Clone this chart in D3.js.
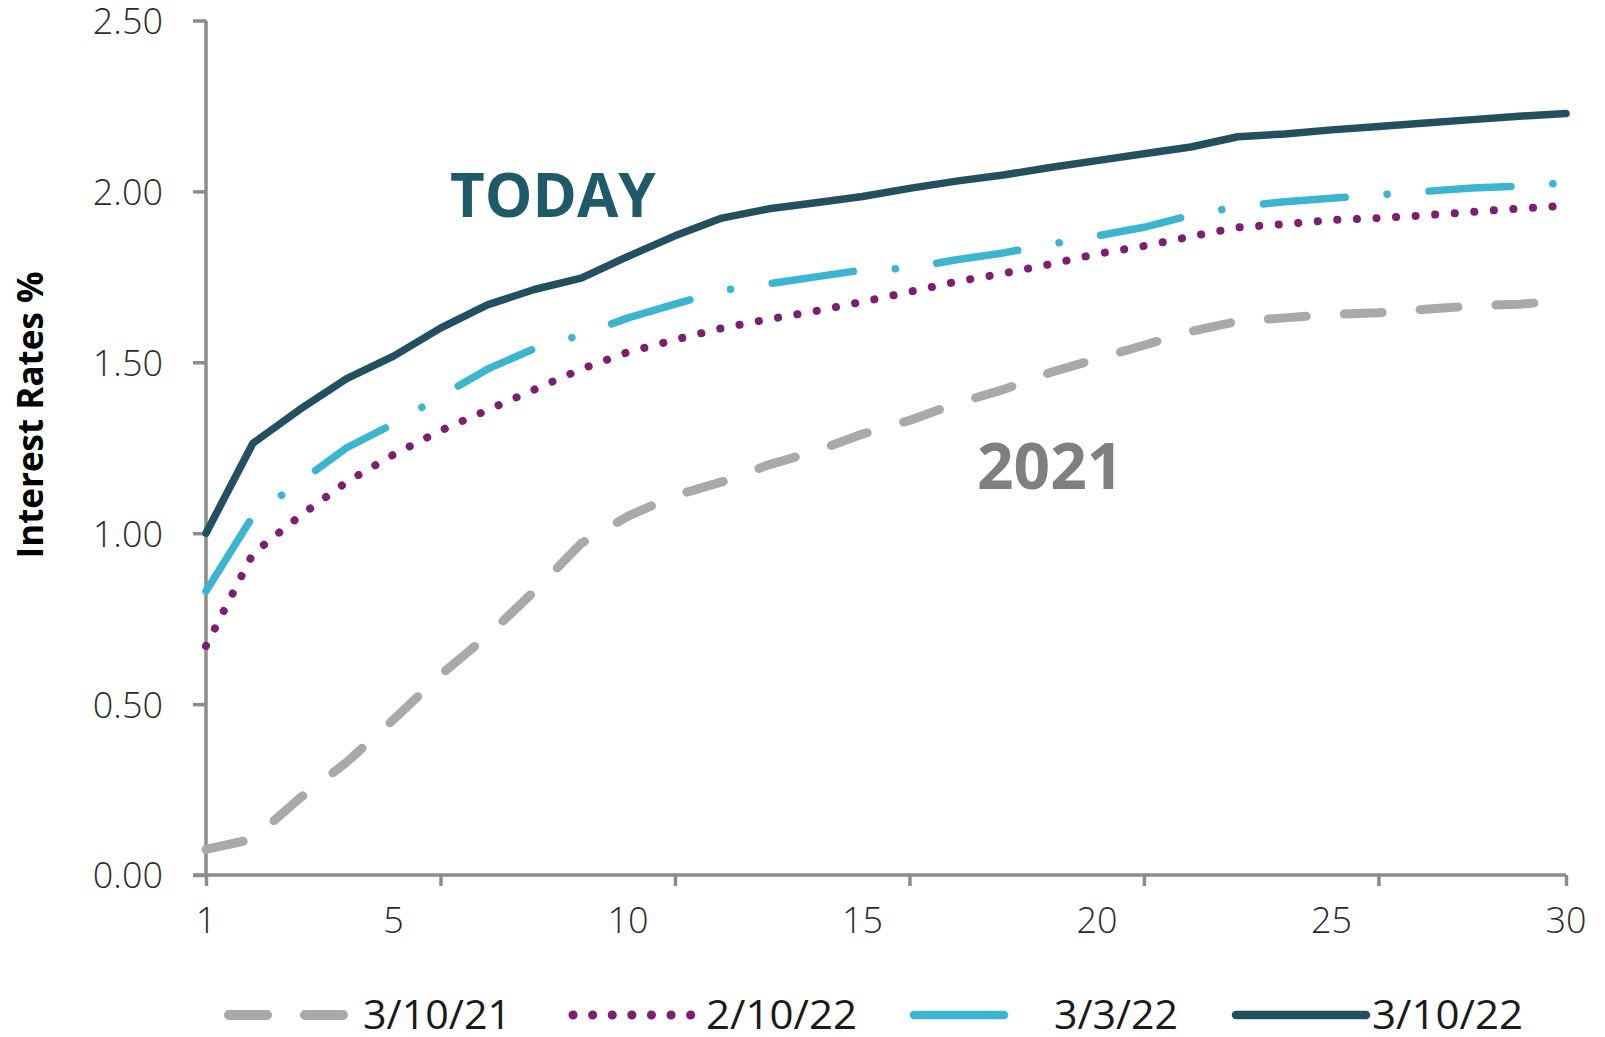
<!DOCTYPE html>
<html>
<head>
<meta charset="utf-8">
<script src="https://cdn.jsdelivr.net/npm/d3@7"></script>
<style>
  body { margin: 0; background: #fff; }
  svg { display: block; }
</style>
</head>
<body>
<div id="chart"></div>
<script>
// maturity (years) on the x axis
var years = d3.range(1, 31)
var xLabels = [1, 5, 10, 15, 20, 25, 30]
var xTicks = [1, 6, 11, 16, 21, 26, 30]
var yTicks = [0, 0.5, 1, 1.5, 2, 2.5]

// yield curves
var mar21 = [0.075, 0.105, 0.225, 0.33, 0.455, 0.585, 0.70, 0.83, 0.97, 1.05,
  1.11, 1.15, 1.20, 1.24, 1.29, 1.33, 1.38, 1.42, 1.47, 1.51,
  1.55, 1.59, 1.62, 1.63, 1.64, 1.645, 1.655, 1.665, 1.67, 1.68]
var feb22 = [0.67, 0.94, 1.05, 1.15, 1.23, 1.30, 1.36, 1.42, 1.48, 1.53,
  1.566, 1.60, 1.626, 1.65, 1.677, 1.706, 1.736, 1.76, 1.787, 1.817,
  1.84, 1.868, 1.895, 1.904, 1.916, 1.922, 1.93, 1.94, 1.95, 1.958]
var mar3_22 = [0.83, 1.05, 1.15, 1.25, 1.32, 1.40, 1.48, 1.54, 1.58, 1.63,
  1.67, 1.71, 1.73, 1.75, 1.77, 1.775, 1.80, 1.82, 1.845, 1.87,
  1.895, 1.93, 1.955, 1.97, 1.98, 1.99, 2.00, 2.01, 2.015, 2.025]
var mar10_22 = [1.00, 1.263, 1.362, 1.452, 1.518, 1.60, 1.668, 1.713, 1.746, 1.81,
  1.87, 1.922, 1.949, 1.967, 1.985, 2.009, 2.03, 2.048, 2.07, 2.09,
  2.11, 2.13, 2.16, 2.168, 2.18, 2.19, 2.20, 2.21, 2.22, 2.228]

var seriesNames = ["3/10/21", "2/10/22", "3/3/22", "3/10/22"]
var seriesData = [mar21, feb22, mar3_22, mar10_22]

var styles = [
  {color: "#a9a9a9", width: 9, dash: "38,38"},
  {color: "#7b1f6e", width: 8, dash: "0.1,19.5"},
  {color: "#3cb6d0", width: 7.5, dash: "82,42,0.1,42"},
  {color: "#23505f", width: 7.5, dash: null}
]

var W = 1605, H = 1037
var margin = {top: 20.5, right: 39, bottom: 162, left: 206}
var width = W - margin.left - margin.right,
    height = H - margin.top - margin.bottom

var svg = d3.select("#chart").append("svg")
  .attr("width", W)
  .attr("height", H)

var g = svg.append("g")
  .attr("transform", `translate(${margin.left},${margin.top})`)

var x = d3.scaleLinear().domain([1, 30]).range([0, width])
var y = d3.scaleLinear().domain([0, 2.5]).range([height, 0])

var axisColor = "#8c8c8c"
var tickFont = "'Open Sans', sans-serif"

// y axis
var yAxis = g.append("g")
  .call(d3.axisLeft(y).tickValues(yTicks).tickFormat(d3.format(".2f")).tickSize(13).tickPadding(30))
yAxis.select(".domain").remove()
yAxis.selectAll(".tick line").attr("stroke", axisColor).attr("stroke-width", 3.5)
yAxis.selectAll(".tick text")
  .attr("fill", "#2b2b2b")
  .attr("dy", "0.36em")
  .style("font-family", tickFont)
  .style("font-weight", 350)
  .style("font-size", "36px")

g.append("line")
  .attr("x1", 0).attr("x2", 0)
  .attr("y1", y(2.5)).attr("y2", height + 1)
  .attr("stroke", axisColor).attr("stroke-width", 3.5)

// x axis: ticks and labels sit at different values, like the source
var xAxis = g.append("g")
  .attr("transform", `translate(0,${height})`)
  .call(d3.axisBottom(x).tickValues(xTicks).tickFormat("").tickSize(11))
xAxis.select(".domain").remove()
xAxis.selectAll(".tick line").attr("stroke", axisColor).attr("stroke-width", 3.5)

g.append("line")
  .attr("x1", -13).attr("x2", width)
  .attr("y1", height).attr("y2", height)
  .attr("stroke", axisColor).attr("stroke-width", 3.5)

g.append("g").selectAll("text")
  .data(xLabels)
  .join("text")
  .attr("x", d => x(d))
  .attr("y", height + 58)
  .attr("text-anchor", "middle")
  .attr("fill", "#2b2b2b")
  .style("font-family", tickFont)
  .style("font-weight", 350)
  .style("font-size", "36px")
  .text(d => d)

// y title
svg.append("text")
  .attr("transform", "translate(43,415) rotate(-90)")
  .attr("text-anchor", "middle")
  .attr("fill", "#000")
  .style("font-family", "'Open Sans', sans-serif")
  .style("font-weight", "bold")
  .style("font-size", "35px")
  .text("Interest Rates %")

// lines
var lineFunc = d3.line()
  .x((d, i) => x(years[i]))
  .y(d => y(d))

seriesData.forEach(function(d, i) {
  g.append("path")
    .attr("d", lineFunc(d))
    .attr("fill", "none")
    .attr("stroke", styles[i].color)
    .attr("stroke-width", styles[i].width)
    .attr("stroke-linecap", "round")
    .attr("stroke-linejoin", "round")
    .attr("stroke-dasharray", styles[i].dash)
})

// annotations
svg.append("text")
  .attr("x", 450).attr("y", 217)
  .attr("fill", "#1e5a68")
  .style("font-family", "'Open Sans', sans-serif")
  .style("font-weight", "bold")
  .style("font-size", "60px")
  .text("TODAY")

svg.append("text")
  .attr("x", 977).attr("y", 489)
  .attr("fill", "#7f7f7f")
  .style("font-family", "'Open Sans', sans-serif")
  .style("font-weight", "bold")
  .style("font-size", "64px")
  .text("2021")

// legend (labels squeezed to the narrow face of the source)
var legendItems = [
  {x1: 229, x2: 356, tx: 363, w: 148},
  {x1: 573, x2: 695, tx: 706, w: 151},
  {x1: 914, x2: 1004, tx: 1054, w: 124},
  {x1: 1236, x2: 1366, tx: 1372, w: 151}
]
var legend = svg.append("g")
legendItems.forEach(function(it, i) {
  legend.append("line")
    .attr("x1", it.x1).attr("x2", it.x2)
    .attr("y1", 1015).attr("y2", 1015)
    .attr("stroke", styles[i].color)
    .attr("stroke-width", styles[i].width + 1)
    .attr("stroke-linecap", "round")
    .attr("stroke-dasharray", i == 2 ? null : styles[i].dash)
  legend.append("text")
    .attr("x", it.tx).attr("y", 1029)
    .attr("fill", "#1a1a1a")
    .attr("textLength", it.w)
    .attr("lengthAdjust", "spacingAndGlyphs")
    .style("font-family", "'Open Sans', sans-serif")
    .style("font-size", "40px")
    .text(seriesNames[i])
})
</script>
</body>
</html>
